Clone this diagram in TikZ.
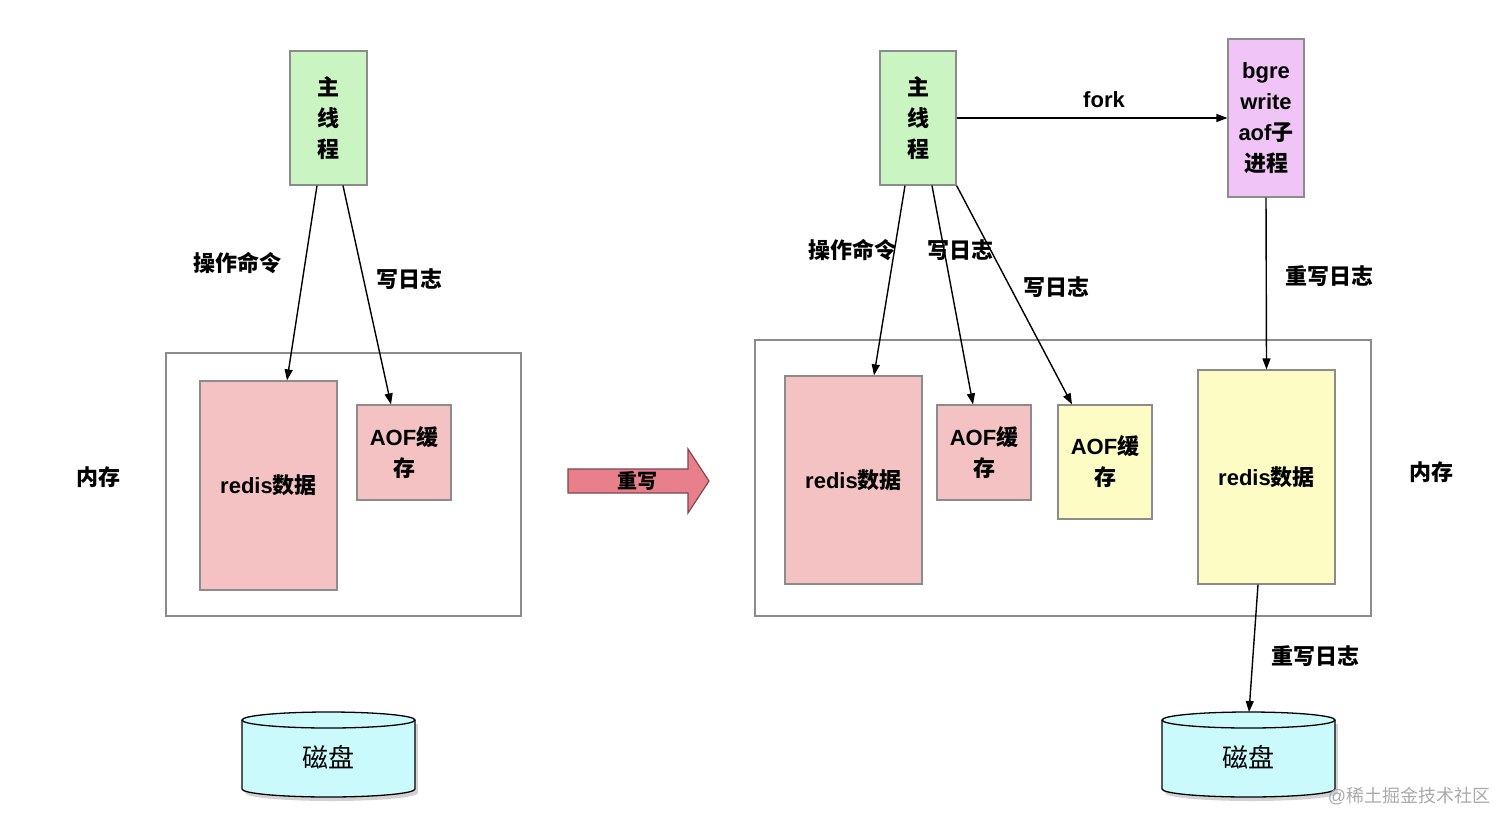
\documentclass[tikz,border=0pt]{standalone}
\usepackage{fontspec}
\setmainfont{Liberation Sans}
\newfontfamily\cjk{Noto Sans CJK SC}
\usetikzlibrary{arrows.meta,calc}
\definecolor{gfill}{RGB}{202,245,194}
\definecolor{pfill}{RGB}{244,194,194}
\definecolor{yfill}{RGB}{252,252,196}
\definecolor{vfill}{RGB}{240,196,246}
\definecolor{cfill}{RGB}{202,250,252}
\definecolor{afill}{RGB}{232,128,140}
\definecolor{aline}{RGB}{130,70,78}
\definecolor{bline}{RGB}{140,140,140}
\definecolor{wm}{RGB}{170,170,170}
\newcommand{\zh}[1]{{\cjk #1}}
\tikzset{
  base/.style={font=\fontsize{22}{31}\selectfont\bfseries, align=center},
  box/.style={base, draw=bline, line width=1.2pt, inner sep=0pt},
  membox/.style={draw=bline, line width=1.5pt, fill=white, inner sep=0pt},
  lbl/.style={base, inner sep=0pt},
  conn/.style={line width=1.4pt, -{Triangle[length=11pt,width=8pt]}},
  disklbl/.style={font=\fontsize{26}{30}\selectfont, inner sep=0pt}
}
\newcommand{\disk}[2]{%
  \fill[black!25, opacity=0.7] (#1+3,720+4) rectangle (#1+173+3,789+4);
  \fill[black!25, opacity=0.7] (#1+3,789+4) arc[start angle=180,end angle=360,x radius=86.5pt,y radius=8pt];
  \fill[cfill] (#1,720) rectangle (#1+173,789);
  \fill[cfill] (#1,789) arc[start angle=180,end angle=360,x radius=86.5pt,y radius=8pt];
  \draw[line width=1.3pt] (#1,720) -- (#1,789) arc[start angle=180,end angle=360,x radius=86.5pt,y radius=8pt] -- (#1+173,720);
  \draw[line width=1.3pt, fill=cfill] (#1+86.5,720) ellipse[x radius=86.5pt,y radius=8pt];
}
\begin{document}
\begin{tikzpicture}[x=1pt,y=-1pt]
\useasboundingbox[fill=white] (0,0) rectangle (1512,830);

% ---------- left ----------
\node[membox, minimum width=355pt, minimum height=263pt] (memL) at (343.5,484.5) {};
\node[box, fill=gfill, minimum width=77pt, minimum height=134pt] (mainL) at (328.5,118) {\zh{主}\\\zh{线}\\\zh{程}};
\node[box, fill=pfill, minimum width=137pt, minimum height=209pt] (redisL) at (268.5,485.5) {redis\zh{数据}};
\node[box, fill=pfill, minimum width=94pt, minimum height=95pt] (aofL) at (404,452.5) {AOF\zh{缓}\\\zh{存}};
\draw[conn] ([xshift=-11.5pt]mainL.south) -- ([xshift=18.5pt]redisL.north);
\draw[conn] ([xshift=14.5pt]mainL.south) -- ([xshift=-13pt]aofL.north);
\node[lbl] (opL) at (237,263) {\zh{操作命令}};
\node[lbl] (logL) at (409,279) {\zh{写日志}};
\node[lbl] (memtxtL) at (98,477) {\zh{内存}};
\disk{242}{L}
\node[disklbl] (diskL) at (328.5,757) {\zh{磁盘}};

% ---------- big arrow ----------
\filldraw[fill=afill, draw=aline, line width=1.2pt] (568,469) -- (688,469) -- (688,449) -- (709,481) -- (688,513) -- (688,493) -- (568,493) -- cycle;
\node[lbl, font=\fontsize{20}{24}\selectfont\bfseries] (rewrite) at (637,481) {\zh{重写}};

% ---------- right ----------
\node[membox, minimum width=616pt, minimum height=276pt] (memR) at (1063,478) {};
\node[box, fill=gfill, minimum width=76pt, minimum height=134pt] (mainR) at (918,118) {\zh{主}\\\zh{线}\\\zh{程}};
\node[box, fill=vfill, minimum width=76pt, minimum height=158pt] (bgre) at (1266,118) {bgre\\write\\aof\zh{子}\\\zh{进程}};
\node[box, fill=pfill, minimum width=137pt, minimum height=208pt] (redisR) at (853.5,480) {redis\zh{数据}};
\node[box, fill=pfill, minimum width=94pt, minimum height=95pt] (aofR) at (984,452.5) {AOF\zh{缓}\\\zh{存}};
\node[box, fill=yfill, minimum width=94pt, minimum height=114pt] (aofY) at (1105,462) {AOF\zh{缓}\\\zh{存}};
\node[box, fill=yfill, minimum width=137pt, minimum height=214pt] (redisY) at (1266.5,477) {redis\zh{数据}};
\disk{1162}{R}
\node[disklbl] (diskR) at (1248.5,757) {\zh{磁盘}};
\coordinate (diskRtop) at (1249,712);

\draw[conn] (mainR.east) -- (bgre.west);
\node[lbl] (fork) at (1104,100) {fork};
\draw[conn] ([xshift=-13pt]mainR.south) -- ([xshift=20.5pt]redisR.north);
\draw[conn] ([xshift=14pt]mainR.south) -- ([xshift=-11pt]aofR.north);
\draw[conn] (mainR.south east) -- ([xshift=-33pt]aofY.north);
\draw[conn] (bgre.south) -- (redisY.north);
\draw[conn] ([xshift=-8.5pt]redisY.south) -- (diskRtop);
\node[lbl] (opR) at (852,250) {\zh{操作命令}};
\node[lbl] (logR1) at (960,250) {\zh{写日志}};
\node[lbl] (logR2) at (1056,287) {\zh{写日志}};
\node[lbl] (rwlog1) at (1329,276) {\zh{重写日志}};
\node[lbl] (rwlog2) at (1315,656) {\zh{重写日志}};
\node[lbl] (memtxtR) at (1431,472) {\zh{内存}};

\node[font=\fontsize{18}{20}\selectfont, text=wm, inner sep=0pt] (wmark) at (1409,796) {@\zh{稀土掘金技术社区}};
\end{tikzpicture}
\end{document}
